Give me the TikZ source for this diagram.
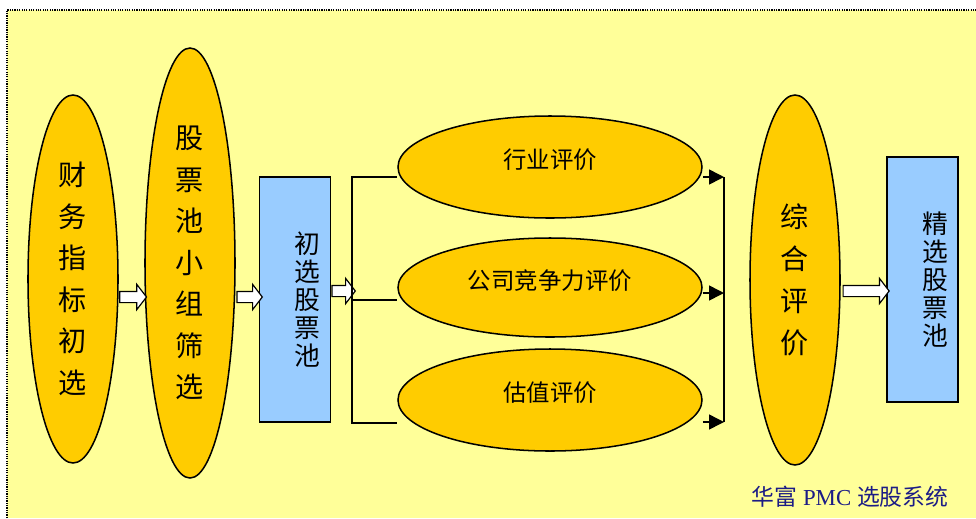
\documentclass[tikz,border=0pt]{standalone}
\usepackage{fontspec}
\setmainfont{Liberation Serif}
\newfontfamily\cjk{Noto Sans CJK SC}
\usepackage{tikz}
\usetikzlibrary{shapes.geometric, shapes.arrows, arrows.meta, positioning}
\definecolor{bgyellow}{HTML}{FFFF99}
\definecolor{gold}{HTML}{FFCC00}
\definecolor{poolblue}{HTML}{99CCFF}
\definecolor{navy}{HTML}{1C1C86}

\tikzset{
  stage/.style={ellipse, draw, line width=1.3pt, fill=gold, inner sep=0pt, align=center, font=\cjk\fontsize{24}{35.4}\selectfont},
  review/.style={ellipse, draw, line width=1.3pt, fill=gold, inner sep=0pt, minimum width=9.12cm, text depth=0.5cm, font=\cjk\fontsize{20}{24}\selectfont},
  pool/.style={rectangle, draw, line width=1.3pt, fill=poolblue, inner sep=0pt, minimum width=2.12cm, minimum height=7.35cm},
  pooltext/.style={align=center, font=\cjk\fontsize{22}{24}\selectfont, xshift=0.38cm},
  hollow/.style={single arrow, draw, line width=1pt, fill=white, inner sep=0.15cm, single arrow head extend=0.21cm, single arrow tip angle=105},
  wire/.style={line width=1.3pt},
}

\begin{document}
\begin{tikzpicture}[x=0.03cm, y=-0.03cm]
  \useasboundingbox (0,0) rectangle (976,518);
  \fill[bgyellow] (7,10) rectangle (976,518);
  \draw[densely dotted, line width=1pt] (7,518) -- (7,10) -- (976,10);

  % screening stages
  \node[stage, minimum width=2.7cm, minimum height=11.04cm] (finance) at (73,279) {财\\务\\指\\标\\初\\选};
  \node[stage, minimum width=2.7cm, minimum height=12.9cm] (group) at (190,263) {股\\票\\池\\小\\组\\筛\\选};
  \node[pool, label={[pooltext]center:初\\选\\股\\票\\池}] (prepool) at (295,299.5) {};

  \node[review, minimum height=3.06cm] (industry) at (550,167) {行业评价};
  \node[review, minimum height=2.97cm] (compete) at (550,287.5) {公司竞争力评价};
  \node[review, minimum height=3.06cm] (value) at (550,400) {估值评价};

  \node[stage, minimum width=2.7cm, minimum height=11.1cm, font=\cjk\fontsize{24}{36}\selectfont] (overall) at (795,280) {综\\合\\评\\价};
  \node[pool, label={[pooltext]center:精\\选\\股\\票\\池}] (finalpool) at (922.5,279.5) {};

  % block arrows
  \node[hollow, minimum height=0.8cm] (a1) at (131,297) {};
  \node[hollow, minimum height=0.76cm] (a2) at (247.5,297) {};
  \node[hollow, minimum height=0.7cm] (a3) at (341.5,291) {};
  \node[hollow, minimum height=1.38cm] (a4) at (864,291) {};

  % branch and join lines
  \coordinate (lt) at (352,177);
  \coordinate (lm) at (352,300);
  \coordinate (lb) at (352,423);
  \draw[wire] (industry.west |- lt) -- (lt) -- (lb) -- (value.west |- lb);
  \draw[wire] (lm) -- (compete.west |- lm);

  \coordinate (rt) at (724,177);
  \coordinate (rm) at (724,293);
  \coordinate (rb) at (724,422);
  \draw[wire] (rt) -- (rb);
  \foreach \e/\r in {industry/rt, compete/rm, value/rb}
    \draw[wire, -{Triangle[length=0.45cm, width=0.45cm]}] (\e.east |- \r) -- (\r);

  \node[text=navy, font=\fontsize{19.5}{22}\selectfont] (footer) at (850,497) {{\cjk 华富} PMC {\cjk 选股系统}};
\end{tikzpicture}
\end{document}
